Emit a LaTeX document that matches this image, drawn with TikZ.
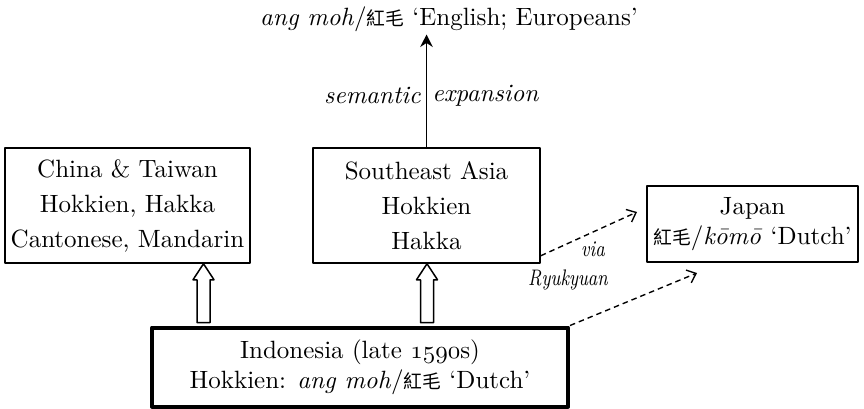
\documentclass[tikz,border=0pt]{standalone}
\usepackage{fontspec}
\newfontfamily\cjk[Scale=0.75]{Noto Sans CJK TC}
\newcommand\osnum[1]{{\usefont{OML}{cmm}{m}{it}#1}}
\newcommand\narrow[1]{\scalebox{0.8}[1]{#1}}
\usetikzlibrary{calc,arrows.meta}
\begin{document}
\begin{tikzpicture}[x=0.4pt,y=-0.4pt,line join=round,
	box/.style={draw,line width=0.6pt,inner sep=0pt,align=center},
	hollow/.style={draw,line width=0.6pt},
	small/.style={font=\fontsize{9}{11}\selectfont\itshape},
	dashline/.style={dashed,dash pattern=on 2.2pt off 1.6pt,line width=0.55pt,-{Straight Barb[length=3.2pt,width=5.5pt]}}]
	\useasboundingbox (0,0) rectangle (864,408);
	% Kaesten
	\node[box,minimum width=98pt,minimum height=46pt] (china) at (127.5,205.5) {China \& Taiwan\\[2pt] Hokkien, Hakka\\[2pt] Cantonese, Mandarin};
	\node[box,minimum width=90.8pt,minimum height=46pt] (sea) at (426.5,205.5) {Southeast Asia\\[2pt] Hokkien\\[2pt] Hakka};
	\node[box,minimum width=84.4pt,minimum height=30.4pt] (japan) at (752.5,224) {Japan\\ {\cjk 紅毛}/\textit{kōmō} `Dutch'};
	\node[box,line width=1.6pt,minimum width=166.4pt,minimum height=31.6pt] (indo) at (360,367) {Indonesia (late \osnum{1590}s)\\ Hokkien: \textit{ang moh}/{\cjk 紅毛} `Dutch'};
	\node[inner sep=1pt] (top) at (449,19) {\textit{ang moh}/{\cjk 紅毛} `English; Europeans'};
	% Pfeil nach oben
	\draw[line width=0.6pt,-{Stealth[length=5pt,width=5pt]}] (sea.north) -- (sea.north |- top.south)
		node[pos=0.46,left,inner sep=2pt] (sem) {\textit{semantic}}
		node[pos=0.46,right,inner sep=2pt] (exp) {\textit{expansion}};
	% hohle Pfeile
	\coordinate (h1) at (203.5,0);
	\coordinate (h2) at (427,0);
	\foreach \h/\t in {h1/china,h2/sea}
		\draw[hollow] (indo.north -| \h) ++(-6.5,-3) -- ($(\t.south -| \h)+(-6.5,16)$) -- ++(-4,0)
			-- (\t.south -| \h) -- ++(10.5,16) -- ++(-4,0) -- ($(indo.north -| \h)+(6.5,-3)$) -- cycle;
	% gestrichelte Pfeile
	\coordinate (viaend) at (637,212);
	\coordinate (ryuend) at (697,273);
	\draw[dashline] ($(sea.south east)+(0,-8)$) -- (viaend);
	\draw[dashline] (indo.north east) -- (ryuend);
	\node[small] (via) at (593,249) {\narrow{via}};
	\node[small] (ryu) at (568,280) {\narrow{Ryukyuan}};
\end{tikzpicture}
\end{document}
